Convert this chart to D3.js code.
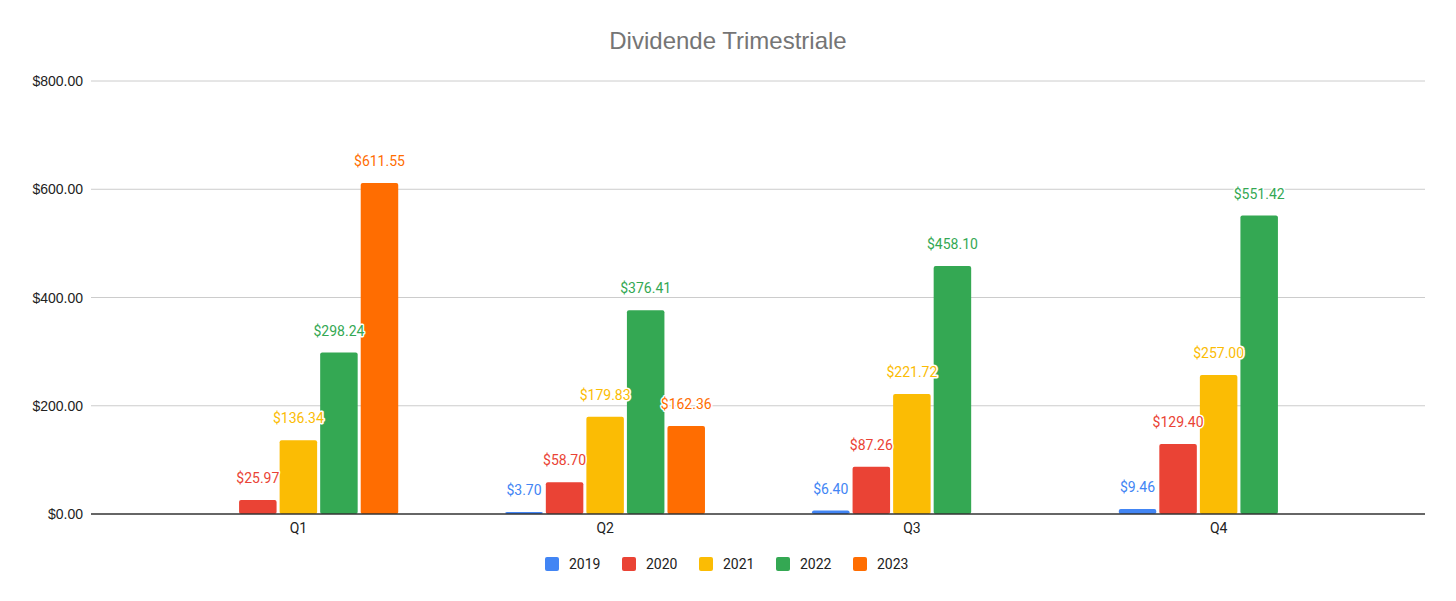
<!DOCTYPE html>
<html>
<head>
<meta charset="utf-8">
<script src="https://cdn.jsdelivr.net/npm/d3@7"></script>
<style>
  body { margin: 0; background: #fff; }
  svg { display: block; }
</style>
</head>
<body>
<svg id="chart" width="1456" height="601"></svg>
<script>
// data
const quarters = ['Q1', 'Q2', 'Q3', 'Q4'];
const years = ['2019', '2020', '2021', '2022', '2023'];
const values2019 = [null, 3.70, 6.40, 9.46];
const values2020 = [25.97, 58.70, 87.26, 129.40];
const values2021 = [136.34, 179.83, 221.72, 257.00];
const values2022 = [298.24, 376.41, 458.10, 551.42];
const values2023 = [611.55, 162.36, null, null];
const yTicks = [0, 200, 400, 600, 800];
const colors = ['#4285F4', '#EA4335', '#FBBC04', '#34A853', '#FF6D01'];

const seriesValues = [values2019, values2020, values2021, values2022, values2023];

const svg = d3.select('svg#chart');
const plotLeft = 91, plotRight = 1425;

const x0 = d3.scaleBand()
  .domain(quarters)
  .range([145, 1372]);

const x1 = d3.scaleBand()
  .domain(years)
  .range([0, x0.bandwidth()])
  .paddingInner(0.075)
  .paddingOuter(1.32);

const y = d3.scaleLinear()
  .domain([0, 800])
  .range([514, 81]);

const color = d3.scaleOrdinal().domain(years).range(colors);
const money = v => '$' + d3.format(',.2f')(v);

// title
svg.append('text')
  .attr('x', 728)
  .attr('y', 49)
  .attr('text-anchor', 'middle')
  .attr('font-family', 'Liberation Sans, Arial, sans-serif')
  .attr('font-size', 24)
  .attr('fill', '#757575')
  .text('Dividende Trimestriale');

// grid lines + y labels
const grid = svg.append('g');
grid.selectAll('line')
  .data(yTicks.filter(d => d > 0))
  .join('line')
  .attr('x1', plotLeft)
  .attr('x2', plotRight)
  .attr('y1', d => y(d))
  .attr('y2', d => y(d))
  .attr('stroke', '#cccccc')
  .attr('stroke-width', 1);

grid.selectAll('text')
  .data(yTicks)
  .join('text')
  .attr('x', 83)
  .attr('y', d => y(d) + 5)
  .attr('text-anchor', 'end')
  .attr('font-family', 'Liberation Sans, Arial, sans-serif')
  .attr('font-size', 14)
  .attr('fill', '#222')
  .text(d => money(d));

// bars
const rows = [];
seriesValues.forEach((vals, i) => {
  vals.forEach((v, j) => {
    if (v !== null) rows.push({ year: years[i], quarter: quarters[j], value: v });
  });
});

const bars = svg.append('g');
bars.selectAll('rect')
  .data(rows)
  .join('rect')
  .attr('x', d => x0(d.quarter) + x1(d.year))
  .attr('y', d => y(d.value))
  .attr('width', x1.bandwidth())
  .attr('height', d => y(0) - y(d.value))
  .attr('rx', 2)
  .attr('fill', d => color(d.year));

// zero line
svg.append('line')
  .attr('x1', plotLeft)
  .attr('x2', plotRight)
  .attr('y1', y(0))
  .attr('y2', y(0))
  .attr('stroke', '#333')
  .attr('stroke-width', 1.5);

// value labels with a white halo
const labels = svg.append('g')
  .attr('font-family', 'Roboto, sans-serif')
  .attr('font-size', 14)
  .attr('text-anchor', 'middle');

labels.selectAll('text.halo')
  .data(rows)
  .join('text')
  .attr('class', 'halo')
  .attr('x', d => x0(d.quarter) + x1(d.year) + x1.bandwidth() / 2)
  .attr('y', d => y(d.value) - 17)
  .attr('fill', 'none')
  .attr('stroke', '#fff')
  .attr('stroke-width', 3)
  .attr('stroke-linejoin', 'round')
  .text(d => money(d.value));

labels.selectAll('text.val')
  .data(rows)
  .join('text')
  .attr('class', 'val')
  .attr('x', d => x0(d.quarter) + x1(d.year) + x1.bandwidth() / 2)
  .attr('y', d => y(d.value) - 17)
  .attr('fill', d => color(d.year))
  .text(d => money(d.value));

// x axis labels
svg.append('g')
  .selectAll('text')
  .data(quarters)
  .join('text')
  .attr('x', d => x0(d) + x0.bandwidth() / 2)
  .attr('y', 533)
  .attr('text-anchor', 'middle')
  .attr('font-family', 'Roboto, sans-serif')
  .attr('font-size', 14)
  .attr('fill', '#222')
  .text(d => d);

// legend
const legend = svg.append('g')
  .attr('transform', 'translate(545, 557)');

const item = legend.selectAll('g')
  .data(years)
  .join('g')
  .attr('transform', (d, i) => `translate(${i * 77}, 0)`);

item.append('rect')
  .attr('width', 14)
  .attr('height', 14)
  .attr('rx', 2)
  .attr('fill', d => color(d));

item.append('text')
  .attr('x', 24)
  .attr('y', 12)
  .attr('font-family', 'Roboto, sans-serif')
  .attr('font-size', 14)
  .attr('fill', '#222')
  .text(d => d);
</script>
</body>
</html>
